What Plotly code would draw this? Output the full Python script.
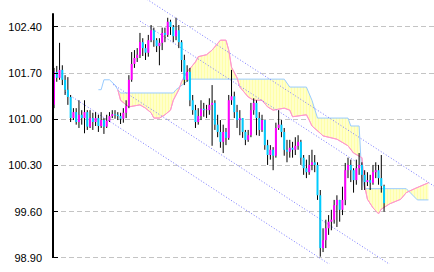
import plotly.graph_objects as go

# ---------------- data (prices) ----------------
first_open = 101.22
close = [101.72, 101.63, 101.75, 101.60, 101.45, 101.34, 101.02, 101.11, 100.96, 101.07,
         101.02, 101.11, 100.89, 101.02, 100.96, 101.02, 100.90, 100.99, 100.89, 100.98,
         101.05, 101.08, 101.07, 101.05, 101.01, 101.10, 101.20, 101.60, 101.84, 101.93,
         101.98, 102.17, 102.08, 102.01, 102.20, 102.35, 102.20, 102.11, 102.16, 102.31,
         102.28, 102.48, 102.40, 102.26, 102.35, 102.17, 101.90, 101.60, 101.72, 101.29,
         101.14, 100.96, 101.05, 101.16, 101.14, 101.14, 101.22, 101.25, 100.92, 100.81,
         100.66, 100.81, 100.72, 101.29, 101.35, 101.11, 100.99, 101.02, 100.81, 100.69,
         100.76, 101.14, 101.25, 101.02, 100.84, 100.99, 100.61, 100.46, 100.54, 100.45,
         100.87, 100.92, 100.81, 100.54, 100.51, 100.57, 100.54, 100.60, 100.66, 100.42,
         100.26, 100.20, 100.31, 100.35, 100.31, 99.85, 99.05, 99.17, 99.35, 99.45,
         99.48, 99.70, 99.78, 99.63, 99.78, 100.23, 100.31, 100.23, 100.08, 100.26,
         100.31, 100.16, 100.05, 100.08, 100.04, 100.20, 100.23, 100.11, 99.99, 99.73]
high = [101.78, 101.81, 102.16, 101.82, 101.67, 101.64, 101.37, 101.17, 101.17, 101.29,
        101.14, 101.29, 101.14, 101.14, 101.10, 101.11, 101.07, 101.11, 101.02, 101.07,
        101.11, 101.14, 101.14, 101.11, 101.10, 101.17, 101.29, 101.67, 102.02, 102.05,
        102.08, 102.31, 102.23, 102.14, 102.28, 102.43, 102.39, 102.23, 102.23, 102.39,
        102.39, 102.54, 102.51, 102.43, 102.54, 102.43, 102.20, 101.98, 101.82, 101.78,
        101.37, 101.22, 101.17, 101.29, 101.25, 101.22, 101.32, 101.52, 101.29, 101.07,
        100.99, 100.92, 100.87, 101.37, 101.75, 101.42, 101.22, 101.14, 101.02, 100.84,
        100.84, 101.25, 101.32, 101.29, 101.11, 101.07, 100.99, 100.69, 100.61, 100.58,
        100.95, 101.14, 100.99, 100.87, 100.69, 100.69, 100.66, 100.73, 100.76, 100.69,
        100.46, 100.39, 100.46, 100.54, 100.46, 100.35, 99.93, 99.35, 99.48, 99.55,
        99.63, 99.78, 99.85, 99.78, 99.98, 100.34, 100.42, 100.39, 100.26, 100.39,
        100.49, 100.35, 100.23, 100.20, 100.16, 100.31, 100.35, 100.31, 100.46, 100.01]
low = [101.17, 101.57, 101.60, 101.52, 101.37, 101.22, 100.96, 100.99, 100.92, 100.87,
       100.92, 100.79, 100.84, 100.87, 100.84, 100.90, 100.81, 100.87, 100.78, 100.87,
       100.96, 101.02, 101.01, 100.99, 100.93, 100.95, 101.02, 101.17, 101.57, 101.78,
       101.87, 101.93, 101.96, 101.90, 101.95, 102.17, 102.10, 102.02, 101.82, 102.05,
       102.17, 102.25, 102.28, 102.17, 102.20, 102.08, 101.72, 101.52, 101.57, 101.20,
       101.07, 100.87, 100.92, 100.99, 101.04, 101.02, 101.07, 100.60, 100.84, 100.73,
       100.57, 100.49, 100.61, 100.69, 101.22, 101.02, 100.87, 100.76, 100.72, 100.61,
       100.66, 100.73, 101.07, 100.76, 100.75, 100.81, 100.54, 100.31, 100.39, 100.23,
       100.42, 100.84, 100.73, 100.45, 100.35, 100.42, 100.42, 100.46, 100.54, 100.31,
       100.16, 100.11, 100.16, 100.23, 100.20, 99.78, 98.92, 98.99, 99.05, 99.25,
       99.32, 99.42, 99.37, 99.45, 99.55, 99.70, 100.11, 100.05, 99.89, 100.01,
       100.16, 99.93, 99.93, 99.99, 99.93, 100.01, 100.11, 100.01, 99.89, 99.60]

# Ichimoku-style spans (bar index, price)
spanA_idx = [16, 17, 18, 20, 22, 23, 24, 43, 44, 49, 83, 85, 91, 93, 95, 106, 107, 110, 111, 112, 127, 131, 135]
spanA = [101.45, 101.45, 101.60, 101.60, 101.52, 101.45, 101.40, 101.40, 101.45, 101.61,
         101.61, 101.49, 101.49, 101.29, 101.02, 101.02, 100.90, 100.90, 100.13, 99.95,
         99.95, 99.78, 99.78]
spanB_idx = [23, 24, 26, 27, 31, 33, 35, 36, 38, 40, 42, 43, 45, 46, 48, 51, 52, 55, 57, 59,
             60, 62, 63, 64, 66, 67, 70, 72, 75, 77, 79, 83, 85, 86, 91, 92, 93, 96, 97, 102,
             106, 108, 111, 112, 113, 115, 117, 118, 121, 125, 127, 130, 132, 135]
spanB = [101.45, 101.29, 101.22, 101.19, 101.22, 101.17, 101.10, 101.02, 101.02, 101.07,
         101.14, 101.29, 101.45, 101.57, 101.72, 101.87, 101.95, 101.98, 102.05, 102.16,
         102.20, 102.20, 102.05, 101.79, 101.63, 101.49, 101.34, 101.29, 101.29, 101.19,
         101.14, 101.17, 101.14, 101.04, 101.07, 100.99, 100.90, 100.79, 100.75, 100.70,
         100.60, 100.49, 100.42, 99.99, 99.79, 99.66, 99.57, 99.64, 99.72, 99.79,
         99.89, 99.95, 99.99, 100.04]

# channel lines: (start index, start price, end index, end price)
channels = [
    (33.5, 102.82, 137.0, 99.99),
    (31.0, 102.49, 108.5, 100.37),
    (4.0, 101.41, 101.3, 98.75),
    (21.3, 101.53, 123.0, 98.75),
]

tick_vals = [98.90, 99.60, 100.30, 101.00, 101.70, 102.40]
y_range = [98.809, 102.809]
x_range = [-0.36, 137.0]
cloud_start = 23

# ---------------- figure ----------------
fig = go.Figure()

# pre-cloud span A line
pre_x = [i for i in spanA_idx if i <= cloud_start]
pre_y = [v for i, v in zip(spanA_idx, spanA) if i <= cloud_start]
fig.add_trace(go.Scatter(x=pre_x, y=pre_y, mode="lines",
                         line=dict(color="#99ccff", width=1), hoverinfo="skip"))

# cloud
cA_x = [i for i in spanA_idx if i >= cloud_start]
cA_y = [v for i, v in zip(spanA_idx, spanA) if i >= cloud_start]
fig.add_trace(go.Scatter(x=spanB_idx, y=spanB, mode="lines",
                         line=dict(color="#ff99cc", width=1), hoverinfo="skip"))
fig.add_trace(go.Scatter(x=cA_x, y=cA_y, mode="lines", fill="tonexty",
                         fillpattern=dict(shape="|", fgcolor="#ffff70",
                                          bgcolor="#ffffe0", size=3, solidity=0.6),
                         line=dict(color="#99ccff", width=1), hoverinfo="skip"))
# redraw pink on top
fig.add_trace(go.Scatter(x=spanB_idx, y=spanB, mode="lines",
                         line=dict(color="#ff99cc", width=1), hoverinfo="skip"))

# channel lines
for x0, y0, x1, y1 in channels:
    fig.add_trace(go.Scatter(x=[x0, x1], y=[y0, y1], mode="lines",
                             line=dict(color="#7777ff", width=1, dash="1px,2px"),
                             hoverinfo="skip"))

# candles
opens = [first_open] + close[:-1]
wx, wy = [], []
ux, uy, dx, dy = [], [], [], []
for i, (o, h, l, c) in enumerate(zip(opens, high, low, close)):
    wx += [i, i, None]
    wy += [l, h, None]
    if c >= o:
        ux += [i, i, None]
        uy += [o, c if c != o else c + 0.01, None]
    else:
        dx += [i, i, None]
        dy += [o, c, None]
fig.add_trace(go.Scatter(x=wx, y=wy, mode="lines", line=dict(color="black", width=1),
                         hoverinfo="skip"))
fig.add_trace(go.Scatter(x=ux, y=uy, mode="lines", line=dict(color="#ff00ff", width=2),
                         hoverinfo="skip"))
fig.add_trace(go.Scatter(x=dx, y=dy, mode="lines", line=dict(color="#00ccff", width=2),
                         hoverinfo="skip"))

# left axis line
fig.add_shape(type="line", xref="paper", yref="y", x0=0, x1=0,
              y0=tick_vals[0], y1=102.61, line=dict(color="black", width=2))

fig.update_layout(
    width=434, height=272,
    margin=dict(l=53, r=0, t=0, b=8),
    paper_bgcolor="white", plot_bgcolor="white",
    showlegend=False,
    font=dict(family="Liberation Sans, Arial, sans-serif", size=11, color="black"),
)
fig.update_xaxes(visible=False, range=x_range, showgrid=False, zeroline=False)
fig.update_yaxes(range=y_range, tickvals=tick_vals, tickformat=".2f",
                 ticks="inside", ticklen=5, tickcolor="black", tickwidth=1,
                 showgrid=True, gridcolor="#c4c4c4", griddash="5px,3px", gridwidth=1,
                 zeroline=False, showline=False, ticklabelstandoff=10)

fig.write_html("out.html")
